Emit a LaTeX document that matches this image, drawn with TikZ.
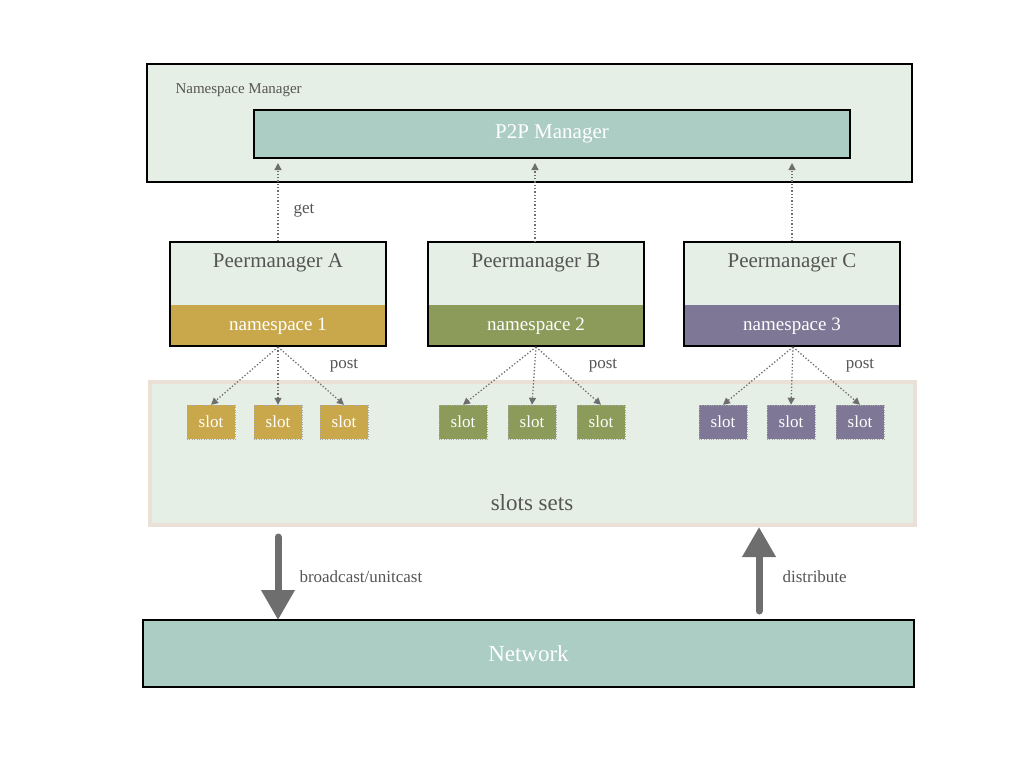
\documentclass[tikz,border=0pt]{standalone}
\usepackage{fontspec}
\setmainfont{Liberation Serif}
\usetikzlibrary{arrows.meta}
\definecolor{lg}{HTML}{E6EFE6}
\definecolor{teal}{HTML}{ABCDC4}
\definecolor{ca}{HTML}{C9A84C}
\definecolor{cb}{HTML}{8C9A5A}
\definecolor{cc}{HTML}{7E7896}
\definecolor{tx}{HTML}{555555}
\definecolor{ar}{HTML}{6E6E6E}
\tikzset{
 box/.style={draw=black,line width=1.8pt,fill=lg},
 slotbox/.style={draw=gray!70,dotted,minimum width=48pt,minimum height=34pt,inner sep=0pt,text=white,font=\fontsize{17}{17}\selectfont},
 dot/.style={draw=ar,dotted,line width=1.3pt,-{Triangle[length=7pt,width=7pt]}},
 big/.style={draw=ar,line width=7pt,line cap=round,-{Triangle[length=30pt,width=32pt]}},
 lab/.style={text=tx,font=\fontsize{17}{17}\selectfont}
}
\begin{document}
\begin{tikzpicture}[x=1pt,y=-1pt]
\useasboundingbox (0,0) rectangle (1024,768);
\node[box,minimum width=765pt,minimum height=118pt,inner sep=0pt] (nsm) at (529.5,123) {};
\node[lab,font=\fontsize{15}{15}\selectfont,anchor=west] (nsml) at (172,90) {Namespace Manager};
\node[draw=black,line width=1.6pt,fill=teal,minimum width=596pt,minimum height=48pt,inner sep=0pt,text=white,font=\fontsize{21}{21}\selectfont] (p2p) at (552,134) {P2P Manager};
\foreach \n/\x/\c/\k in {A/278/ca/1,B/536/cb/2,C/792/cc/3}{
 \node[box,minimum width=216pt,minimum height=104pt,inner sep=0pt] (pm\n) at (\x,294) {};
 \fill[\c] (\x-107,305) rectangle (\x+107,345);
 \node[lab,font=\fontsize{21}{21}\selectfont] (pt\n) at (\x,263) {Peermanager \n};
 \node[text=white,font=\fontsize{19}{19}\selectfont] (ns\n) at (\x,326) {namespace \k};
}
\coordinate (gA) at (278,163); \coordinate (gB) at (535,163); \coordinate (gC) at (792,163);
\draw[dot] (pmA.north) -- (gA);
\draw[dot] (535,242) -- (gB);
\draw[dot] (pmC.north) -- (gC);
\node[lab] (get) at (304,211) {get};
\node[draw=black!20!brown!20,line width=3.5pt,fill=lg,minimum width=765pt,minimum height=143pt,inner sep=0pt] (ss) at (532.5,453.5) {};
\node[lab,font=\fontsize{23}{23}\selectfont] (ssl) at (532,503) {slots sets};
\foreach \n/\c/\a/\b/\d in {A/ca/211/278/344,B/cb/463/532/601,C/cc/723/791/860}{
 \node[slotbox,fill=\c] (s\n1) at (\a,422) {slot};
 \node[slotbox,fill=\c] (s\n2) at (\b,422) {slot};
 \node[slotbox,fill=\c] (s\n3) at (\d,422) {slot};
}
\foreach \n/\x in {A/278,B/536,C/793}{
 \coordinate (o\n) at (\x,347);
 \foreach \i in {1,2,3}{\draw[dot] (o\n) -- (s\n\i.north);}
}
\node[lab] (p1) at (344,366) {post};
\node[lab] (p2) at (603,366) {post};
\node[lab] (p3) at (860,366) {post};
\node[draw=black,line width=1.8pt,fill=teal,minimum width=771pt,minimum height=67pt,inner sep=0pt,text=white,font=\fontsize{23}{23}\selectfont] (net) at (528.5,653.5) {Network};
\coordinate (d1) at (278,537); \coordinate (d2) at (278,620);
\draw[big] (d1) -- (d2);
\coordinate (u1) at (759,611); \coordinate (u2) at (759,527);
\draw[big] (u1) -- (u2);
\node[lab,anchor=west] (bc) at (296,577) {broadcast/unitcast};
\node[lab,anchor=west] (di) at (779,577) {distribute};
\end{tikzpicture}
\end{document}
